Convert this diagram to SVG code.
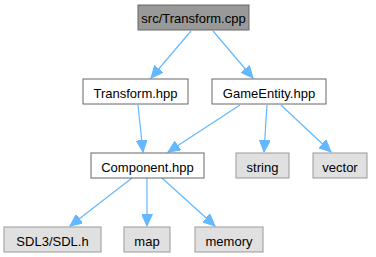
<svg xmlns="http://www.w3.org/2000/svg" width="376" height="257" viewBox="0 0 376 257">
  <style>
    .node rect { stroke-width: 1; }
    .main rect { fill: #999999; stroke: #666666; }
    .local rect { fill: #ffffff; stroke: #666666; }
    .sys rect { fill: #e0e0e0; stroke: #999999; }
    .node text { font-family: "Liberation Sans", Arial, Helvetica, sans-serif; font-size: 13px; fill: #000000; text-anchor: middle; }
    .edges line { stroke: #63b8ff; stroke-width: 1.2; marker-end: url(#arrow); }
  </style>
  <defs>
    <marker id="arrow" markerUnits="userSpaceOnUse" markerWidth="13" markerHeight="11" refX="12" refY="5.5" orient="auto">
      <path d="M0,0 L12,5.5 L0,11 Z" fill="#63b8ff" stroke="#63b8ff" stroke-width="1"/>
    </marker>
  </defs>

  <g class="edges" id="edges">
    <line x1="191" y1="31" x2="151" y2="78"/>
    <line x1="213" y1="31" x2="253" y2="78"/>
    <line x1="138" y1="105" x2="143" y2="152"/>
    <line x1="240" y1="105" x2="168" y2="152"/>
    <line x1="267" y1="105" x2="264" y2="152"/>
    <line x1="281" y1="105" x2="331" y2="152"/>
    <line x1="132" y1="178" x2="70" y2="226"/>
    <line x1="147" y1="178" x2="147" y2="226"/>
    <line x1="162" y1="178" x2="215" y2="226"/>
  </g>

  <g id="node-transform-cpp" class="node main">
    <rect x="138" y="5" width="111" height="25"/>
    <text x="193.5" y="23">src/Transform.cpp</text>
  </g>
  <g id="node-transform-hpp" class="node local">
    <rect x="83" y="79" width="105" height="25"/>
    <text x="135.5" y="97.5">Transform.hpp</text>
  </g>
  <g id="node-gameentity-hpp" class="node local">
    <rect x="212" y="79" width="114" height="25"/>
    <text x="269" y="97.5">GameEntity.hpp</text>
  </g>
  <g id="node-component-hpp" class="node local">
    <rect x="91" y="153" width="113" height="25"/>
    <text x="147.5" y="171.5">Component.hpp</text>
  </g>
  <g id="node-string" class="node sys">
    <rect x="236" y="153" width="53" height="25"/>
    <text x="262.5" y="171.5">string</text>
  </g>
  <g id="node-vector" class="node sys">
    <rect x="313" y="153" width="54" height="25"/>
    <text x="340" y="171.5">vector</text>
  </g>
  <g id="node-sdl" class="node sys">
    <rect x="4" y="227" width="97" height="25"/>
    <text x="52.5" y="245.5">SDL3/SDL.h</text>
  </g>
  <g id="node-map" class="node sys">
    <rect x="124" y="227" width="46" height="25"/>
    <text x="147" y="245.5">map</text>
  </g>
  <g id="node-memory" class="node sys">
    <rect x="195" y="227" width="68" height="25"/>
    <text x="229" y="245.5">memory</text>
  </g>
</svg>
